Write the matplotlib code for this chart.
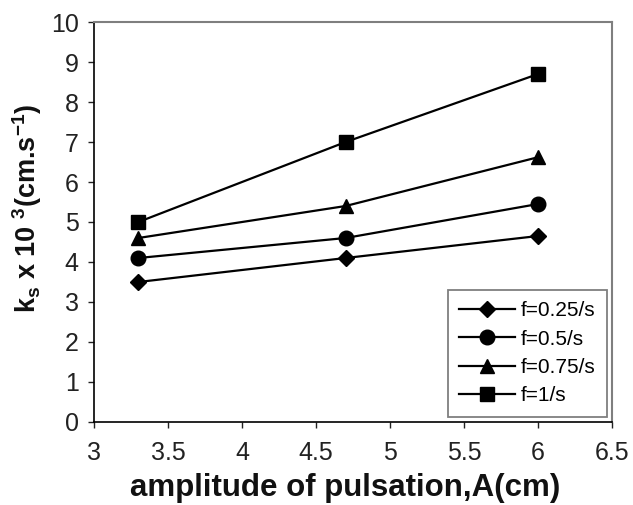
import matplotlib
matplotlib.use("Agg")
import matplotlib.pyplot as plt

plt.rcParams["font.family"] = ["Liberation Sans", "DejaVu Sans"]
plt.rcParams["mathtext.fontset"] = "custom"
plt.rcParams["mathtext.rm"] = "Liberation Sans:bold"
plt.rcParams["mathtext.default"] = "rm"

# amplitude of pulsation (cm)
amplitude = [3.3, 4.7, 6.0]

# mass transfer coefficient k_s x 10^3 (cm/s) for each pulsation frequency
ks_f025 = [3.5, 4.1, 4.65]
ks_f050 = [4.1, 4.6, 5.45]
ks_f075 = [4.6, 5.4, 6.62]
ks_f100 = [5.0, 7.0, 8.7]

labels = ["f=0.25/s", "f=0.5/s", "f=0.75/s", "f=1/s"]
series = [ks_f025, ks_f050, ks_f075, ks_f100]
markers = [("D", 8), ("o", 10.5), ("^", 9.5), ("s", 10.5)]

fig = plt.figure(figsize=(6.33, 5.05), dpi=100)
ax = fig.add_axes([0.1485, 0.1644, 0.8185, 0.792])

for vals, lab, (m, ms) in zip(series, labels, markers):
    ax.plot(amplitude, vals, color="black", lw=1.6, marker=m, ms=ms,
            label=lab)

ax.set_xlim(3, 6.5)
ax.set_ylim(0, 10)
ax.set_xticks([3, 3.5, 4, 4.5, 5, 5.5, 6, 6.5])
ax.set_xticklabels(["3", "3.5", "4", "4.5", "5", "5.5", "6", "6.5"])
ax.set_yticks(range(0, 11))
ax.tick_params(axis="both", direction="out", length=4, width=1,
               labelsize=18, colors="#222222")
ax.tick_params(axis="y", pad=7)
ax.tick_params(axis="x", pad=10)

for side in ("top", "right"):
    ax.spines[side].set_color("#7f7f7f")
    ax.spines[side].set_linewidth(1.5)
for side in ("left", "bottom"):
    ax.spines[side].set_linewidth(1.2)

ax.set_xlabel("amplitude of pulsation,A(cm)", fontsize=22.5,
              fontweight="bold", color="#111111")
ax.xaxis.set_label_coords(0.485, -0.128)
ax.set_ylabel(r"$k_s$ x 10 $^{3}$(cm.s$^{-1}$)", fontsize=19.5,
              fontweight="bold", color="#111111")
ax.yaxis.set_label_coords(-0.097, 0.535)

leg = ax.legend(loc="lower right", fontsize=15, frameon=True,
                fancybox=False, edgecolor="#7f7f7f", handlelength=2.7,
                borderaxespad=0.25, labelspacing=0.45, handletextpad=0.25,
                borderpad=0.55, framealpha=1)
leg.get_frame().set_linewidth(1.3)

fig.savefig("out.png", dpi=100)
